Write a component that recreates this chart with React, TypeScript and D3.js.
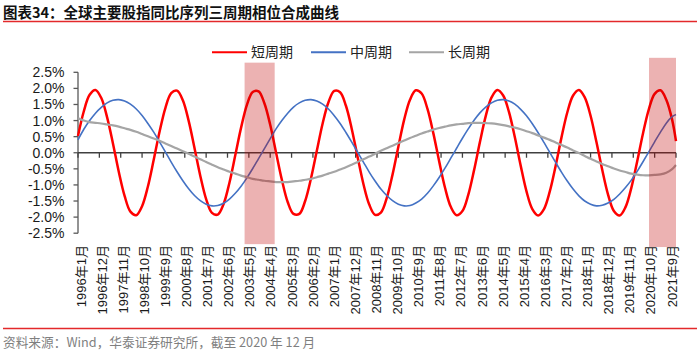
import React from 'react';
import * as d3 from 'd3';

const title = '图表34：全球主要股指同比序列三周期相位合成曲线';
const source = '资料来源：Wind，华泰证券研究所，截至 2020 年 12 月';
const seriesNames = ['短周期', '中周期', '长周期'];
const seriesColors = ['#ff0000', '#4472c4', '#a5a5a5'];
const seriesWidths = [2.5, 1.6, 2.2];

// month offsets from 1996-01
const months = [
  0, 3, 6, 9, 12, 15, 18, 21, 24, 27, 30, 33, 36, 39, 42, 45, 48, 51, 54, 57,
  60, 63, 66, 69, 72, 75, 78, 81, 84, 87, 90, 93, 96, 99, 102, 105, 108, 111, 114, 117,
  120, 123, 126, 129, 132, 135, 138, 141, 144, 147, 150, 153, 156, 159, 162, 165, 168, 171, 174, 177,
  180, 183, 186, 189, 192, 195, 198, 201, 204, 207, 210, 213, 216, 219, 222, 225, 228, 231, 234, 237,
  240, 243, 246, 249, 252, 255, 258, 261, 264, 267, 270, 273, 276, 279, 282, 285, 288, 291, 294, 297,
  300, 303, 306, 308,
];

const shortCycle = [
  0.52, 1.29, 1.80, 1.95, 1.70, 1.10, 0.29, -0.59, -1.34, -1.83,
  -1.94, -1.66, -1.05, -0.22, 0.65, 1.39, 1.85, 1.93, 1.63, 0.99,
  0.15, -0.72, -1.44, -1.87, -1.92, -1.59, -0.93, -0.08, 0.78, 1.49,
  1.89, 1.91, 1.54, 0.87, 0.01, -0.84, -1.53, -1.90, -1.90, -1.50,
  -0.80, 0.06, 0.91, 1.57, 1.92, 1.88, 1.46, 0.74, -0.13, -0.97,
  -1.61, -1.93, -1.86, -1.41, -0.68, 0.19, 1.03, 1.65, 1.94, 1.84,
  1.36, 0.61, -0.26, -1.08, -1.68, -1.94, -1.81, -1.31, -0.54, 0.33,
  1.14, 1.72, 1.95, 1.78, 1.26, 0.48, -0.40, -1.20, -1.75, -1.95,
  -1.75, -1.20, -0.41, 0.47, 1.25, 1.78, 1.95, 1.72, 1.15, 0.34,
  -0.53, -1.30, -1.81, -1.95, -1.69, -1.09, -0.27, 0.60, 1.35, 1.83,
  1.94, 1.65, 1.03, 0.36,
];

const midCycle = [
  0.40, 0.73, 1.00, 1.23, 1.41, 1.55, 1.63, 1.65, 1.61, 1.51,
  1.36, 1.16, 0.91, 0.64, 0.34, 0.03, -0.29, -0.59, -0.87, -1.12,
  -1.33, -1.49, -1.60, -1.65, -1.64, -1.57, -1.44, -1.26, -1.04, -0.78,
  -0.49, -0.18, 0.13, 0.44, 0.74, 1.00, 1.23, 1.42, 1.55, 1.63,
  1.65, 1.61, 1.51, 1.36, 1.15, 0.91, 0.63, 0.33, 0.02, -0.29,
  -0.60, -0.88, -1.13, -1.33, -1.49, -1.60, -1.65, -1.64, -1.56, -1.44,
  -1.26, -1.03, -0.77, -0.48, -0.17, 0.14, 0.45, 0.74, 1.01, 1.24,
  1.42, 1.55, 1.63, 1.65, 1.61, 1.51, 1.35, 1.15, 0.90, 0.62,
  0.32, 0.01, -0.30, -0.60, -0.88, -1.13, -1.34, -1.50, -1.60, -1.65,
  -1.63, -1.56, -1.45, -1.28, -1.08, -0.85, -0.58, -0.28, 0.03, 0.34,
  0.64, 0.92, 1.12, 1.19,
];

const longCycle = [
  1.07, 1.00, 0.95, 0.93, 0.91, 0.88, 0.85, 0.81, 0.76, 0.71,
  0.65, 0.58, 0.51, 0.44, 0.37, 0.29, 0.21, 0.13, 0.05, -0.03,
  -0.12, -0.20, -0.29, -0.37, -0.45, -0.52, -0.59, -0.65, -0.71, -0.76,
  -0.81, -0.84, -0.87, -0.89, -0.91, -0.91, -0.91, -0.89, -0.87, -0.84,
  -0.81, -0.76, -0.71, -0.65, -0.59, -0.52, -0.45, -0.37, -0.29, -0.20,
  -0.12, -0.03, 0.06, 0.14, 0.22, 0.30, 0.38, 0.46, 0.53, 0.60,
  0.66, 0.72, 0.77, 0.81, 0.85, 0.88, 0.90, 0.92, 0.93, 0.93,
  0.92, 0.91, 0.89, 0.86, 0.82, 0.78, 0.73, 0.67, 0.61, 0.54,
  0.47, 0.40, 0.32, 0.24, 0.16, 0.07, -0.01, -0.10, -0.19, -0.27,
  -0.35, -0.42, -0.49, -0.55, -0.60, -0.65, -0.68, -0.70, -0.70, -0.69,
  -0.67, -0.62, -0.51, -0.38,
];

const xLabels = [
  '1996年1月', '1996年12月', '1997年11月', '1998年10月', '1999年9月', '2000年8月',
  '2001年7月', '2002年6月', '2003年5月', '2004年4月', '2005年3月', '2006年2月',
  '2007年1月', '2007年12月', '2008年11月', '2009年10月', '2010年9月', '2011年8月',
  '2012年7月', '2013年6月', '2014年5月', '2015年4月', '2016年3月', '2017年2月',
  '2018年1月', '2018年12月', '2019年11月', '2020年10月', '2021年9月',
];
const xLabelMonths = [
  0, 11, 22, 33, 44, 55, 66, 77, 88, 99, 110, 121, 132, 143, 154, 165, 176, 187,
  198, 209, 220, 231, 242, 253, 264, 275, 286, 297, 308,
];
const yTicks = [2.5, 2.0, 1.5, 1.0, 0.5, 0.0, -0.5, -1.0, -1.5, -2.0, -2.5];

// shaded periods (month offsets) and their vertical extent (in %)
const bandStart = [85.8, 294.1];
const bandEnd = [101.3, 308];
const bandTop = [2.8, 2.95];
const bandBottom = [-2.84, -2.93];

const W = 700;
const H = 352;
const cjk = '"Noto Sans CJK SC", "Liberation Sans", sans-serif';
const latin = '"Liberation Sans", Arial, "Noto Sans CJK SC", sans-serif';

export default function App() {
  const x = d3.scaleLinear().domain([0, 308]).range([78, 676]);
  const y = d3.scaleLinear().domain([-2.5, 2.5]).range([233.2, 72.3]);
  const xl = d3.scalePoint<string>().domain(xLabels).range([81, 672]);

  const series = [shortCycle, midCycle, longCycle];
  const line = d3
    .line<number>()
    .x((_, i) => x(months[i]))
    .y((d) => y(d))
    .curve(d3.curveCatmullRom.alpha(0.5));

  const axisColor = '#595959';
  const legendX = [212, 311, 409];

  return (
    <svg
      width={W}
      height={H}
      style={{ position: 'absolute', left: 0, top: 0, background: '#fff' }}
    >
      <rect x={0} y={0} width={W} height={H} fill="#fff" />
      {/* title */}
      <text x={3} y={17.5} fontFamily={cjk} fontWeight={700} fontSize={14.5} fill="#111">
        {title}
      </text>
      <line x1={3} x2={697} y1={21.5} y2={21.5} stroke="#e3292b" strokeWidth={1.5} />

      {/* legend */}
      {seriesNames.map((n, i) => (
        <g key={n}>
          <line
            x1={legendX[i]}
            x2={legendX[i] + 35}
            y1={52.3}
            y2={52.3}
            stroke={seriesColors[i]}
            strokeWidth={2}
          />
          <text x={legendX[i] + 39} y={57.3} fontFamily={cjk} fontSize={14} fill="#222">
            {n}
          </text>
        </g>
      ))}

      {/* y axis */}
      <line x1={78} x2={78} y1={y(2.5)} y2={y(-2.5)} stroke={axisColor} strokeWidth={1.3} />
      {yTicks.map((t) => (
        <g key={t}>
          <line x1={73.5} x2={78} y1={y(t)} y2={y(t)} stroke={axisColor} strokeWidth={1.3} />
          <text
            x={64.5}
            y={y(t) + 5}
            textAnchor="end"
            fontFamily={latin}
            fontSize={14}
            fill="#1a1a1a"
          >
            {t.toFixed(1) + '%'}
          </text>
        </g>
      ))}

      {/* x axis */}
      <line x1={x(0)} x2={x(308)} y1={y(0)} y2={y(0)} stroke="#404040" strokeWidth={1.3} />
      {xLabelMonths.map((m) => (
        <line
          key={m}
          x1={x(m)}
          x2={x(m)}
          y1={y(0)}
          y2={y(0) + 5}
          stroke="#404040"
          strokeWidth={1.3}
        />
      ))}
      {xLabels.map((l) => (
        <text
          key={l}
          transform={`translate(${xl(l)},245) rotate(-90)`}
          textAnchor="end"
          dominantBaseline="central"
          fontFamily={latin}
          fontSize={13}
          fill="#1a1a1a"
        >
          {l}
        </text>
      ))}

      {/* series */}
      {series.map((s, i) => (
        <path
          key={i}
          d={line(s) || ''}
          fill="none"
          stroke={seriesColors[i]}
          strokeWidth={seriesWidths[i]}
          strokeLinejoin="round"
        />
      ))}

      {/* shaded periods */}
      {bandStart.map((b, i) => (
        <rect
          key={i}
          x={x(b)}
          width={x(bandEnd[i]) - x(b)}
          y={y(bandTop[i])}
          height={y(bandBottom[i]) - y(bandTop[i])}
          fill="rgba(192,0,0,0.3)"
        />
      ))}

      {/* footer */}
      <line x1={3} x2={697} y1={328.5} y2={328.5} stroke="#e3292b" strokeWidth={1.5} />
      <text x={3} y={346.5} fontFamily={cjk} fontSize={12.7} fill="#7f7f7f">
        {source}
      </text>
    </svg>
  );
}
